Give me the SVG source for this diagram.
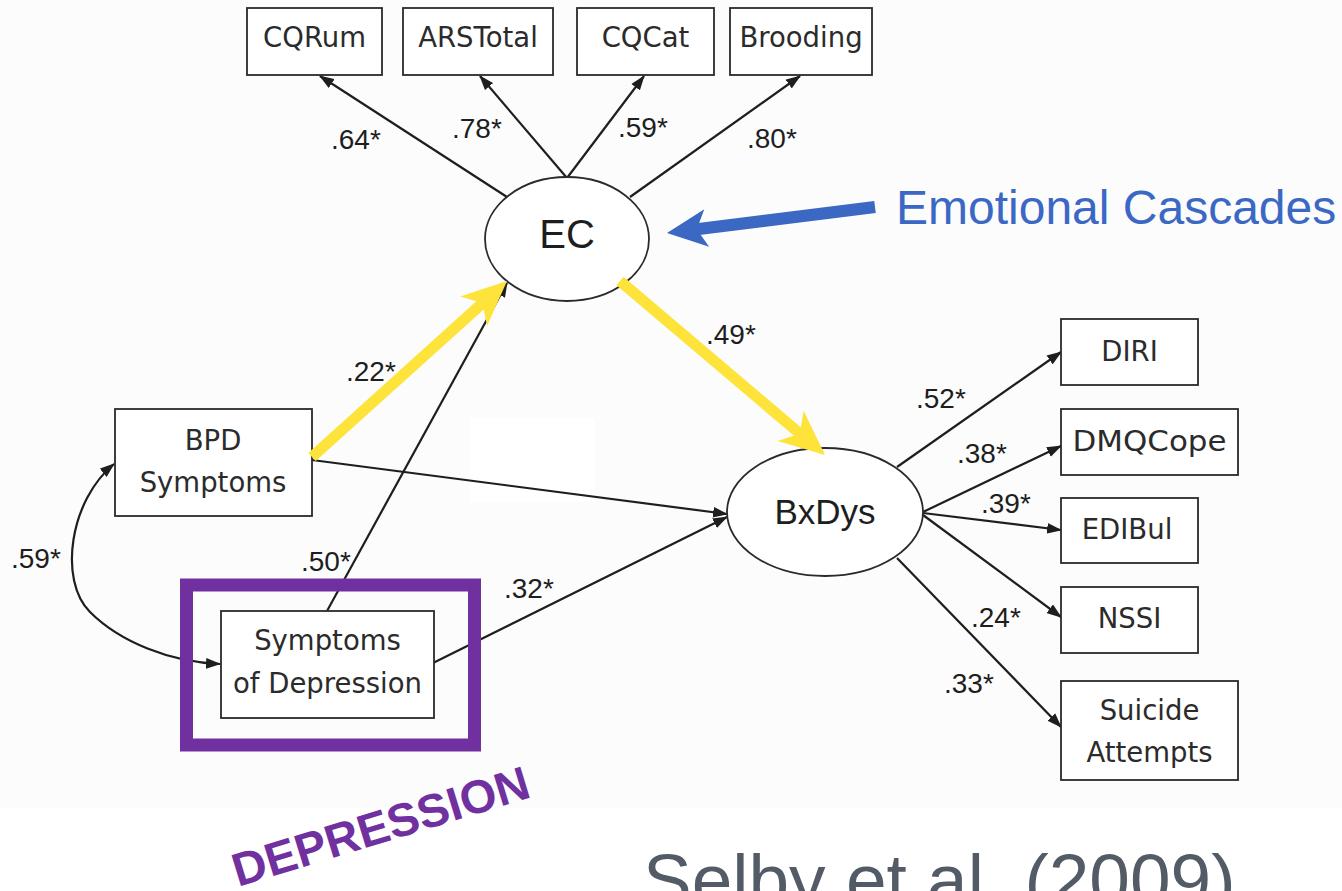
<svg xmlns="http://www.w3.org/2000/svg" width="1342" height="891" viewBox="0 0 1342 891">
  <defs>
    <style>
      .box { fill: #ffffff; stroke: #2a2a2a; stroke-width: 1.8; }
      .ell { fill: #ffffff; stroke: #2a2a2a; stroke-width: 1.8; }
      .lbl { font-family: "DejaVu Sans", "Liberation Sans", sans-serif; font-size: 27.5px; fill: #2b2b2b; text-anchor: middle; }
      .lat { font-family: "Liberation Sans", Arial, sans-serif; fill: #1e1e1e; text-anchor: middle; }
      .coef { font-family: "Liberation Sans", Arial, sans-serif; font-size: 28px; fill: #1e1e1e; }
      .edge { fill: none; stroke: #1e1e1e; stroke-width: 2.2; marker-end: url(#ah); }
      .yel { fill: #fde33a; }
      .yel-shaft { stroke: #fde33a; stroke-width: 11; fill: none; }
    </style>
    <marker id="ah" viewBox="0 0 14 10" refX="13" refY="5" markerWidth="15" markerHeight="11" orient="auto" markerUnits="userSpaceOnUse">
      <path d="M0,0 L14,5 L0,10 z" fill="#1e1e1e"/>
    </marker>
    <marker id="ah2" viewBox="0 0 14 10" refX="13" refY="5" markerWidth="15" markerHeight="11" orient="auto-start-reverse" markerUnits="userSpaceOnUse">
      <path d="M0,0 L14,5 L0,10 z" fill="#1e1e1e"/>
    </marker>
  </defs>

  <!-- page backgrounds -->
  <rect x="0" y="0" width="1342" height="891" fill="#ffffff"/>
  <rect x="0" y="0" width="1342" height="808" fill="#fcfcfc"/>
  <rect x="470" y="418" width="125" height="84" fill="#ffffff"/>

  <!-- connectors -->
  <g id="connectors">
    <path class="edge" d="M507,197 L320,76"/>
    <path class="edge" d="M567,178 L480,76"/>
    <path class="edge" d="M567,178 L644,76"/>
    <path class="edge" d="M630,197 L800,76"/>
    <path class="edge" d="M327,611 L507,283"/>
    <path class="edge" d="M312,460 L727,514"/>
    <path class="edge" d="M433,663 L727,517"/>
    <path class="edge" d="M897,467 L1061,352"/>
    <path class="edge" d="M923,512 L1061,446"/>
    <path class="edge" d="M923,513 L1061,530"/>
    <path class="edge" d="M923,515 L1061,617"/>
    <path class="edge" d="M897,558 L1061,727"/>
    <!-- covariance -->
    <path d="M114,464 C70,500 58,580 90,612 C120,642 170,662 220,664" fill="none" stroke="#1e1e1e" stroke-width="2.2" marker-start="url(#ah2)" marker-end="url(#ah2)"/>
  </g>

  <!-- indicator boxes -->
  <g id="cqrum"><rect class="box" x="247" y="8" width="135" height="67"/><text class="lbl" x="314.5" y="47">CQRum</text></g>
  <g id="arstotal"><rect class="box" x="403" y="8" width="150" height="67"/><text class="lbl" x="478" y="47">ARSTotal</text></g>
  <g id="cqcat"><rect class="box" x="577" y="8" width="137" height="67"/><text class="lbl" x="645.5" y="47">CQCat</text></g>
  <g id="brooding"><rect class="box" x="730" y="8" width="142" height="67"/><text class="lbl" x="801" y="47">Brooding</text></g>

  <g id="ec"><ellipse class="ell" cx="567" cy="239" rx="82" ry="62"/><text class="lat" x="567" y="248" font-size="40">EC</text></g>
  <g id="bxdys"><ellipse class="ell" cx="825" cy="512" rx="98" ry="64"/><text class="lat" x="825" y="524" font-size="35">BxDys</text></g>

  <g id="bpd"><rect class="box" x="115" y="409" width="197" height="107"/><text class="lbl" x="213" y="450">BPD</text><text class="lbl" x="213" y="492">Symptoms</text></g>
  <g id="depression"><rect class="box" x="221" y="611" width="213" height="107"/><text class="lbl" x="327.5" y="650">Symptoms</text><text class="lbl" x="327.5" y="693">of Depression</text></g>

  <g id="diri"><rect class="box" x="1061" y="319" width="137" height="66"/><text class="lbl" x="1129.5" y="361">DIRI</text></g>
  <g id="dmqcope"><rect class="box" x="1061" y="409" width="177" height="66"/><text class="lbl" x="1149.5" y="451" textLength="154" lengthAdjust="spacingAndGlyphs">DMQCope</text></g>
  <g id="edibul"><rect class="box" x="1061" y="498" width="137" height="65"/><text class="lbl" x="1127" y="539">EDIBul</text></g>
  <g id="nssi"><rect class="box" x="1061" y="587" width="137" height="66"/><text class="lbl" x="1129.5" y="628">NSSI</text></g>
  <g id="suicide"><rect class="box" x="1061" y="681" width="177" height="99"/><text class="lbl" x="1149.5" y="720">Suicide</text><text class="lbl" x="1149.5" y="762">Attempts</text></g>

  <!-- path coefficients -->
  <g id="coefficients">
    <text class="coef" x="331" y="149">.64*</text>
    <text class="coef" x="452" y="138">.78*</text>
    <text class="coef" x="618" y="137">.59*</text>
    <text class="coef" x="747" y="148">.80*</text>
    <text class="coef" x="706" y="344">.49*</text>
    <text class="coef" x="346" y="381">.22*</text>
    <text class="coef" x="916" y="408">.52*</text>
    <text class="coef" x="957" y="463">.38*</text>
    <text class="coef" x="981" y="513">.39*</text>
    <text class="coef" x="971" y="627">.24*</text>
    <text class="coef" x="944" y="693">.33*</text>
    <text class="coef" x="11" y="568">.59*</text>
    <text class="coef" x="301" y="571">.50*</text>
    <text class="coef" x="504" y="598">.32*</text>
  </g>

  <!-- highlight arrows -->
  <g id="highlight-bpd-ec">
    <line class="yel-shaft" x1="312" y1="457" x2="482.5" y2="303.1"/>
    <polygon class="yel" points="507,281 487,326 482.5,303.1 460.2,296.4"/>
  </g>
  <g id="highlight-ec-bxdys">
    <line class="yel-shaft" x1="620" y1="281" x2="799.9" y2="433.6"/>
    <polygon class="yel" points="825,455 777.8,441.1 799.9,433.6 803.6,410.7"/>
  </g>
  <g id="ec-callout">
    <line x1="875" y1="207" x2="696.8" y2="229.3" stroke="#3a68c2" stroke-width="12"/>
    <polygon points="667,233 704.3,209.2 696.8,229.3 709.1,246.8" fill="#3a68c2"/>
    <text x="896" y="224" font-family="Liberation Sans, Arial, sans-serif" font-size="48" fill="#3b68c4">Emotional Cascades</text>
  </g>

  <!-- depression frame and tag -->
  <g id="depression-frame">
    <rect x="186.5" y="585" width="288" height="160" fill="none" stroke="#7030a0" stroke-width="13"/>
    <text x="238" y="887" transform="rotate(-17 238 887)" font-family="Liberation Sans, Arial, sans-serif" font-size="47" font-weight="bold" fill="#7030a0">DEPRESSION</text>
  </g>

  <text id="citation" x="643" y="905" font-family="Liberation Sans, Arial, sans-serif" font-size="73" fill="#525b66">Selby et al. (2009)</text>
</svg>
